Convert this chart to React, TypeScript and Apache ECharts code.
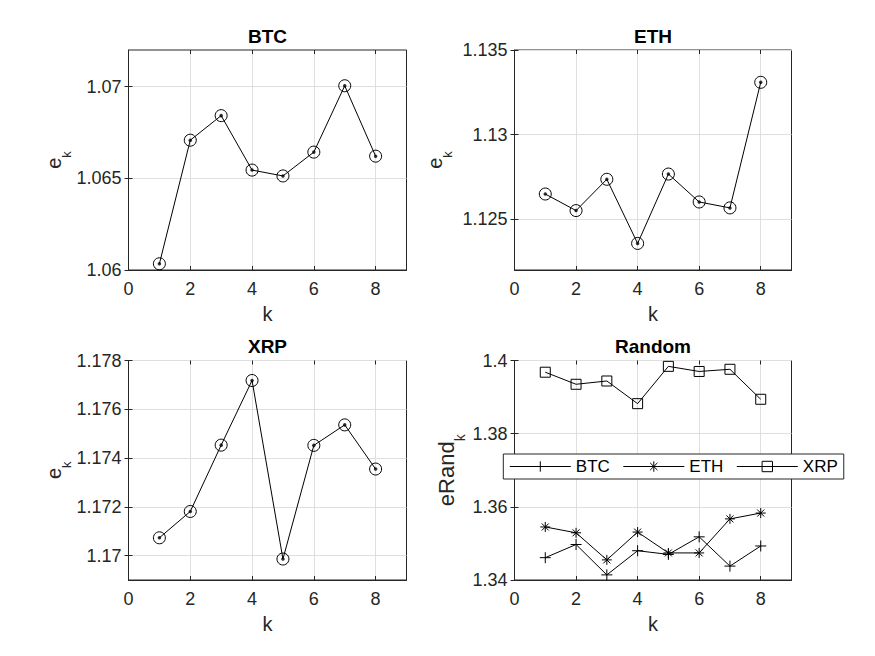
import React, { useEffect, useRef } from 'react';
import * as echarts from 'echarts';

// ---------- data ----------
const kValues = [1, 2, 3, 4, 5, 6, 7, 8];
const btcE = [1.06034, 1.06708, 1.06842, 1.06545, 1.06513, 1.06643, 1.07005, 1.06621];
const ethE = [1.12649, 1.12551, 1.12736, 1.12357, 1.12767, 1.12602, 1.12567, 1.13309];
const xrpE = [1.17073, 1.17181, 1.17453, 1.17718, 1.16986, 1.17452, 1.17536, 1.17355];
const randBTC = [1.3461, 1.3497, 1.3414, 1.348, 1.347, 1.3518, 1.3438, 1.3493];
const randETH = [1.3545, 1.3529, 1.3455, 1.3531, 1.3474, 1.3474, 1.3567, 1.3583];
const randXRP = [1.3968, 1.3935, 1.3944, 1.3882, 1.3984, 1.397, 1.3976, 1.3894];

const panelTitles = ['BTC', 'ETH', 'XRP', 'Random'];
const legendNames = ['BTC', 'ETH', 'XRP'];
const xTicks = [0, 2, 4, 6, 8];
const xRange = [0, 9];
const btcTicks = [1.06, 1.065, 1.07];
const ethTicks = [1.125, 1.13, 1.135];
const xrpTicks = [1.17, 1.172, 1.174, 1.176, 1.178];
const randTicks = [1.34, 1.36, 1.38, 1.4];
const btcRange = [1.06, 1.072];
const ethRange = [1.122, 1.135];
const xrpRange = [1.169, 1.178];
const randRange = [1.34, 1.4];

// ---------- layout / style ----------
const FONT = '"Liberation Sans", Arial, Helvetica, sans-serif';
const AX = '#262626';
const GRID_LINE = '#dfdfdf';
const GRIDS = [
  { left: 128.5, top: 50, width: 278, height: 220 },
  { left: 514.5, top: 50, width: 277, height: 220 },
  { left: 128.5, top: 360.5, width: 278, height: 219.5 },
  { left: 514.5, top: 360.5, width: 277, height: 219.5 },
];
const TITLE_Y = [36.3, 36.3, 346, 346];
const Y_NAME_GAP = [65, 70, 65, 57];
const Y_NAME_SIZE = [20, 20, 20, 22];

const fmt = (v: number) => String(parseFloat(Number(v).toFixed(4)));

const PLUS = 'path://M5 0L5 10M0 5L10 5';
const STAR = 'path://M5 0L5 10M0 5L10 5M1.5 1.5L8.5 8.5M1.5 8.5L8.5 1.5';

function pairs(vals: number[]) {
  return kValues.map((k, j) => [k, vals[j]]);
}

function buildOption() {
  const yTicksAll = [btcTicks, ethTicks, xrpTicks, randTicks];
  const yRanges = [btcRange, ethRange, xrpRange, randRange];
  const xAxis: any[] = [];
  const yAxis: any[] = [];
  GRIDS.forEach((_, i) => {
    const ns = Y_NAME_SIZE[i];
    const ks = Math.round(ns * 0.65);
    xAxis.push({
      type: 'value',
      gridIndex: i,
      position: 'bottom',
      min: xRange[0],
      max: xRange[1],
      axisLine: { show: true, onZero: false, lineStyle: { color: AX, width: 1 } },
      axisTick: { show: true, inside: true, length: 4, lineStyle: { color: AX }, customValues: xTicks },
      axisLabel: { customValues: xTicks, color: AX, fontSize: 18, fontFamily: FONT, margin: 10, formatter: fmt },
      splitLine: { show: true, lineStyle: { color: GRID_LINE, width: 1 } },
      name: 'k',
      nameLocation: 'middle',
      nameGap: 34,
      nameTextStyle: { color: AX, fontSize: 20, fontFamily: FONT },
    });
    yAxis.push({
      type: 'value',
      gridIndex: i,
      position: 'left',
      min: yRanges[i][0],
      max: yRanges[i][1],
      axisLine: { show: true, onZero: false, lineStyle: { color: AX, width: 1 } },
      axisTick: { show: true, inside: true, length: 4, lineStyle: { color: AX }, customValues: yTicksAll[i] },
      axisLabel: { customValues: yTicksAll[i], color: AX, fontSize: 18, fontFamily: FONT, margin: 7, formatter: fmt },
      splitLine: { show: true, lineStyle: { color: GRID_LINE, width: 1 } },
      name: i === 3 ? '{e|eRand}{k|k}' : '{e|e}{k|k}',
      nameLocation: 'middle',
      nameGap: Y_NAME_GAP[i],
      nameTextStyle: {
        color: AX,
        fontFamily: FONT,
        rich: {
          e: { fontSize: ns, lineHeight: ns, verticalAlign: 'top', color: AX, fontFamily: FONT },
          k: { fontSize: ks, lineHeight: ks, padding: [Math.round(ns * 0.78), 0, 0, 0], verticalAlign: 'top', color: AX, fontFamily: FONT },
        },
      },
    });
  });
  // box ticks on top / right
  GRIDS.forEach((_, i) => {
    xAxis.push({
      type: 'value',
      gridIndex: i,
      position: 'top',
      min: xRange[0],
      max: xRange[1],
      axisLine: { show: false },
      axisTick: { show: true, inside: true, length: 4, lineStyle: { color: AX }, customValues: xTicks },
      axisLabel: { show: false },
      splitLine: { show: false },
    });
    yAxis.push({
      type: 'value',
      gridIndex: i,
      position: 'right',
      min: yRanges[i][0],
      max: yRanges[i][1],
      axisLine: { show: false },
      axisTick: { show: true, inside: true, length: 4, lineStyle: { color: AX }, customValues: yTicksAll[i] },
      axisLabel: { show: false },
      splitLine: { show: false },
    });
  });

  const series: any[] = [];
  [btcE, ethE, xrpE].forEach((vals, i) => {
    series.push({
      type: 'line',
      name: panelTitles[i] + '-line',
      xAxisIndex: i,
      yAxisIndex: i,
      data: pairs(vals),
      symbol: 'circle',
      symbolSize: 12,
      lineStyle: { color: '#000', width: 1 },
      itemStyle: { color: 'transparent', borderColor: '#000', borderWidth: 1 },
      z: 3,
    });
    series.push({
      type: 'scatter',
      name: panelTitles[i] + '-dot',
      xAxisIndex: i,
      yAxisIndex: i,
      data: pairs(vals),
      symbol: 'circle',
      symbolSize: 3.5,
      itemStyle: { color: '#000' },
      z: 4,
    });
  });
  const randSets = [randBTC, randETH, randXRP];
  const randSymbols = [PLUS, STAR, 'rect'];
  const randSizes = [11, 10, 10];
  randSets.forEach((vals, j) => {
    series.push({
      type: 'line',
      name: legendNames[j],
      xAxisIndex: 3,
      yAxisIndex: 3,
      data: pairs(vals),
      symbol: randSymbols[j],
      symbolSize: randSizes[j],
      lineStyle: { color: '#000', width: 1 },
      itemStyle: { color: 'transparent', borderColor: '#000', borderWidth: 1 },
      z: 3,
    });
  });

  const graphic = GRIDS.map((g, i) => ({
    type: 'text',
    x: g.left + g.width / 2,
    y: TITLE_Y[i],
    style: {
      text: panelTitles[i],
      align: 'center',
      verticalAlign: 'middle',
      fontSize: 19,
      fontWeight: 'bold',
      fontFamily: FONT,
      fill: '#000',
    },
  }));

  return {
    animation: false,
    backgroundColor: '#ffffff',
    grid: GRIDS.map((g) => ({ ...g, show: true, borderColor: AX, borderWidth: 1, backgroundColor: 'transparent', containLabel: false })),
    xAxis,
    yAxis,
    series,
    graphic,
    legend: {
      data: legendNames,
      orient: 'horizontal',
      left: 503.3,
      top: 454,
      padding: [4, 6, 4, 6],
      itemWidth: 61,
      itemHeight: 13,
      itemGap: 13,
      backgroundColor: '#ffffff',
      borderColor: AX,
      borderWidth: 1,
      borderRadius: 0,
      selectedMode: false,
      textStyle: { color: '#000', fontSize: 17, fontFamily: FONT, padding: [0, 0, 0, 0] },
      lineStyle: { width: 1, color: '#000' },
      itemStyle: { borderWidth: 1, borderColor: '#000', color: 'transparent' },
      z: 10,
    },
  };
}

export default function App() {
  const ref = useRef<HTMLDivElement>(null);
  useEffect(() => {
    if (!ref.current) return;
    const chart = echarts.init(ref.current, undefined, { renderer: 'svg' });
    chart.setOption(buildOption() as any);
    return () => chart.dispose();
  }, []);
  return (
    <div
      ref={ref}
      style={{ position: 'absolute', left: 0, top: 0, width: 875, height: 656, background: '#fff' }}
    />
  );
}
